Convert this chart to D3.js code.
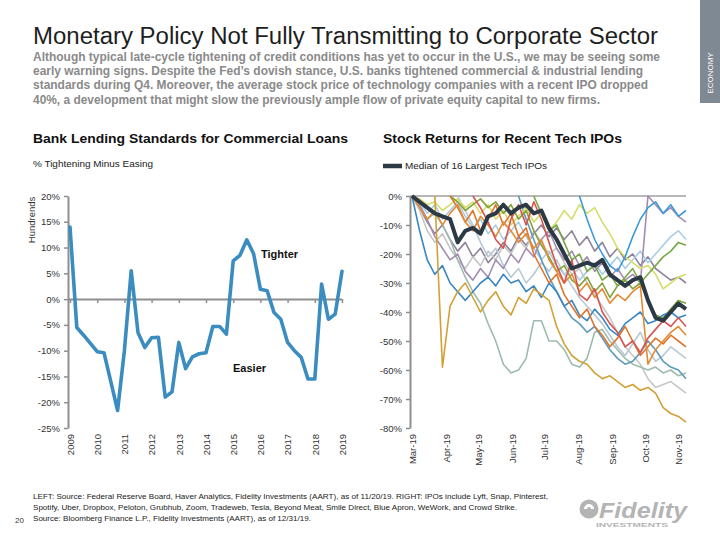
<!DOCTYPE html>
<html><head><meta charset="utf-8">
<script src="https://cdn.jsdelivr.net/npm/d3@7"></script>
<style>
body{margin:0;background:#fff;}
svg{display:block;font-family:"Liberation Sans",Arial,Helvetica,sans-serif;}
</style>
</head><body>
<svg id="chart" width="720" height="540"></svg>
<script>
// ---------------- DATA ----------------
// Left: Bank lending standards, % tightening minus easing (quarterly)
const lendingQuarters = ["2009Q1","2009Q2","2009Q3","2009Q4","2010Q1","2010Q2","2010Q3","2010Q4",
  "2011Q1","2011Q2","2011Q3","2011Q4","2012Q1","2012Q2","2012Q3","2012Q4",
  "2013Q1","2013Q2","2013Q3","2013Q4","2014Q1","2014Q2","2014Q3","2014Q4",
  "2015Q1","2015Q2","2015Q3","2015Q4","2016Q1","2016Q2","2016Q3","2016Q4",
  "2017Q1","2017Q2","2017Q3","2017Q4","2018Q1","2018Q2","2018Q3","2018Q4","2019Q1"];
const lendingValues = [14,-5.5,-7,-8.6,-10.2,-10.4,-16,-21.6,
  -10,5.5,-6.5,-9.4,-7.5,-7.4,-19,-18,
  -8.4,-13.5,-11.2,-10.6,-10.4,-5.3,-5.3,-6.8,
  7.4,8.5,11.5,8.8,1.9,1.6,-2.6,-3.9,
  -8.4,-10,-11.3,-15.5,-15.5,2.9,-3.9,-2.9,5.4];
const lendingYears = [2009,2010,2011,2012,2013,2014,2015,2016,2017,2018,2019];
const lendingTicks = [20,15,10,5,0,-5,-10,-15,-20,-25];

// Right: stock returns for recent tech IPOs (weekly samples)
const ipoDates = ["2019-03-01","2019-03-08","2019-03-15","2019-03-22","2019-03-29",
  "2019-04-05","2019-04-12","2019-04-19","2019-04-26",
  "2019-05-03","2019-05-10","2019-05-17","2019-05-24","2019-05-31",
  "2019-06-07","2019-06-14","2019-06-21","2019-06-28",
  "2019-07-05","2019-07-12","2019-07-19","2019-07-26",
  "2019-08-02","2019-08-09","2019-08-16","2019-08-23","2019-08-30",
  "2019-09-06","2019-09-13","2019-09-20","2019-09-27",
  "2019-10-04","2019-10-11","2019-10-18","2019-10-25",
  "2019-11-01","2019-11-08"];
const s01 = [0,-12,-22,-27,-24,-30,-33,-36,-33,-30,-28,-31,-27,-30,-29,-33,-31,-35,-30,-33,-38,-36,-41,-43,-39,-42,-46,-48,-44,-42,-40,-44,-43,-41,-40,-42,-41];
const s02 = [0,-4,-8,-5,-10,-6,-3,-9,-12,-7,-10,-14,-9,-12,-16,-13,-18,-15,-22,-26,-30,-27,-33,-30,-35,-32,-37,-34,-36,-33,-31,-58,-53,-50,-47,-45,-48];
const s03 = [null,null,null,0,-59,-38,-33,-30,-35,-40,-36,-33,-38,-41,-35,-37,-32,-34,-36,-45,-51,-55,-57,-58,-61,-63,-62,-64,-66,-65,-67,-66,-68,-73,-75,-76,-78];
const s04 = [0,-4,-8,-6,-10,-15,-22,-28,-33,-37,-44,-50,-58,-61,-60,-56,-43,-43,-50,-50,-53,-58,-59,-56,-47,-46,-50,-53,-56,-58,-59,-60,-59,-61,-60,-62,-61];
const s05 = [null,null,null,null,null,null,null,null,null,null,null,null,null,null,0,-8,-15,-22,-28,-33,-38,-42,-44,-47,-45,-49,-53,-56,-58,-57,-54,-50,-53,-57,-59,-60,-63];
const s06 = [0,-5,-12,-16,-13,-18,-22,-25,-21,-24,-19,-22,-17,-20,-15,-18,-12,-16,-20,-18,-23,-27,-25,-30,-34,-38,-42,-47,-52,-55,-58,-63,-66,-65,-64,-66,-68];
const s07 = [0,-3,-8,-14,-18,-22,-20,-26,-29,-25,-28,-22,-25,-20,-23,-18,-21,-15,-12,-18,-22,-19,-24,-21,-26,-23,-28,-25,-29,-27,-30,0,-3,-6,-4,-7,-9];
const s08 = [null,null,null,null,null,null,null,null,0,-4,-9,-15,-18,-8,-3,-10,-2,-8,-16,-24,-30,-22,-34,-36,-32,-40,-44,-47,-52,-50,-54,-49,-46,-43,-45,-42,-45];
const s09 = [null,null,null,null,null,0,-2,-5,-3,-1,-4,-2,-6,-3,-8,-5,-12,-17,-21,-26,-24,-29,-31,-28,-33,-30,-35,-31,-29,-32,-30,-36,-41,-42,-39,-36,-37];
const s10 = [null,null,null,null,null,null,null,null,null,null,null,null,null,null,null,null,0,-6,-12,-10,-16,-22,-20,-26,-24,-29,-27,-31,-28,-25,-30,-27,-24,-21,-19,-16,-17];
const s11 = [0,-1,-3,-2,-5,-3,-1,-4,-2,-6,-3,-8,-5,-10,-7,-4,-9,-6,-12,-9,-5,-8,-3,-6,-4,-9,-13,-18,-21,-23,-25,-24,-27,-32,-30,-28,-27];
const s12 = [0,-2,-6,-3,-8,-5,-2,-7,-11,-8,-13,-10,-15,-12,-9,-14,-18,-22,-19,-24,-27,-25,-29,-26,-23,-27,-24,-21,-25,-22,-19,-23,-20,-17,-14,-12,-15];
const s13 = [null,null,null,null,null,null,null,null,null,null,null,null,null,null,null,null,null,null,null,null,null,null,0,-8,-15,-20,-24,-26,-21,-14,-8,-4,-2,-6,-3,-7,-5];
const s14 = [0,-4,-9,-13,-10,-15,-19,-16,-21,-18,-23,-20,-16,-19,-14,-17,-13,-10,-14,-11,-15,-12,-17,-14,-19,-16,-21,-18,-22,-20,-24,-21,-25,-27,-29,-28,-30];
const s15 = [null,null,null,null,null,null,0,-5,-10,-16,-21,-18,-24,-28,-25,-30,-27,-23,-26,-22,-27,-31,-35,-38,-41,-44,-48,-52,-55,-51,-47,-53,-57,-55,-52,-54,-56];
const s16 = [null,null,null,null,null,0,-4,-9,-5,-12,-8,-3,-10,-6,-14,-11,-20,-25,-30,-27,-34,-38,-42,-39,-45,-48,-52,-49,-45,-50,-55,-52,-49,-51,-48,-50,-52];
const medianIPO = [0,-2,-4,-6,-7,-8,-16,-12,-11,-13,-7,-6,-3,-6,-4,-3,-6,-5,-11,-15,-20,-25,-24,-23,-24,-22,-27,-29,-31,-29,-28,-36,-42,-43,-40,-37,-39];
const ipoSeries = [s14,s12,s06,s04,s15,s05,s07,s11,s09,s10,s13,s01,s16,s02,s08,s03];
const ipoColors = ["#8f8399","#a9cde6","#c6c6c6","#9dbcae","#b7c8d4","#5c9bbb","#a48db3","#d5dd6c",
                   "#84a23a","#79a945","#3d9ad6","#3a86c2","#e0742c","#e48a33","#d9534f","#d3a036"];
const ipoTicks = [0,-10,-20,-30,-40,-50,-60,-70,-80];
const monthTicks = ["2019-03-01","2019-04-01","2019-05-01","2019-06-01","2019-07-01","2019-08-01","2019-09-01","2019-10-01","2019-11-01"];
const monthLabels = ["Mar-19","Apr-19","May-19","Jun-19","Jul-19","Aug-19","Sep-19","Oct-19","Nov-19"];

// ---------------- TEXT ----------------
const titleText = "Monetary Policy Not Fully Transmitting to Corporate Sector";
const subtitleLines = [
  "Although typical late-cycle tightening of credit conditions has yet to occur in the U.S., we may be seeing some",
  "early warning signs. Despite the Fed\u2019s dovish stance, U.S. banks tightened commercial & industrial lending",
  "standards during Q4. Moreover, the average stock price of technology companies with a recent IPO dropped",
  "40%, a development that might slow the previously ample flow of private equity capital to new firms."];
const footerLines = [
  "LEFT: Source: Federal Reserve Board, Haver Analytics, Fidelity Investments (AART), as of 11/20/19.  RIGHT: IPOs include Lyft, Snap, Pinterest,",
  "Spotify, Uber, Dropbox, Peloton, Grubhub, Zoom, Tradeweb, Tesla, Beyond Meat, Smile Direct, Blue Apron, WeWork, and Crowd Strike.",
  "Source: Bloomberg Finance L.P., Fidelity Investments (AART), as of 12/31/19."];

// ---------------- DRAW ----------------
const svg = d3.select("#chart");
svg.append("rect").attr("width",720).attr("height",540).attr("fill","#fff");

function txt(x, y, s, o = {}) {
  const t = svg.append("text").attr("x", x).attr("y", y).text(s)
    .attr("font-size", o.size || 10).attr("fill", o.fill || "#222")
    .attr("font-weight", o.weight || "normal");
  if (o.anchor) t.attr("text-anchor", o.anchor);
  if (o.style) t.attr("font-style", o.style);
  if (o.len) t.attr("textLength", o.len).attr("lengthAdjust", "spacingAndGlyphs");
  if (o.ls) t.attr("letter-spacing", o.ls);
  return t;
}

// Header
txt(33, 44, titleText, {size: 23, fill: "#1e1e1e", len: 625});
const subLens = [627, 610, 615, 567];
subtitleLines.forEach((s, i) => txt(33, 61 + i * 14.2, s, {size: 12, weight: "bold", fill: "#8a8a8a", len: subLens[i]}));

// Side tab
svg.append("rect").attr("x", 700).attr("y", 0).attr("width", 20).attr("height", 103).attr("fill", "#7f8993");
svg.append("text").attr("transform", "translate(713,73) rotate(-90)").attr("text-anchor", "middle")
  .attr("font-size", 8).attr("fill", "#fff").text("ECONOMY");

// ---------- Left chart ----------
txt(33, 143, "Bank Lending Standards for Commercial Loans", {size: 13, weight: "bold", fill: "#111", len: 315});
txt(33, 167, "% Tightening Minus Easing", {size: 9.5, fill: "#222", len: 120});

const qToYear = q => +q.slice(0, 4) + (+q.slice(5) - 1) / 4;
const xL = d3.scaleLinear().domain([2009, 2019]).range([70, 342]);
const yL = d3.scaleLinear().domain([-25, 20]).range([428, 196]);

const gL = svg.append("g");
const yAxisL = gL.append("g").attr("transform", "translate(68,0)")
  .call(d3.axisLeft(yL).tickValues(lendingTicks).tickSize(4).tickSizeOuter(0).tickFormat(d => d + "%"));
yAxisL.select(".domain").attr("stroke", "#8f8f8f").attr("stroke-width", 2);
yAxisL.selectAll(".tick line").attr("stroke", "#8f8f8f").attr("stroke-width", 1.5);
yAxisL.selectAll(".tick text").attr("font-size", 9.5).attr("fill", "#333")
  .attr("font-family", "Liberation Sans, Arial, sans-serif").attr("x", -8);

const xAxisL = gL.append("g").attr("transform", `translate(0,${yL(0)})`)
  .call(d3.axisBottom(xL).tickValues(lendingYears).tickSize(4).tickSizeOuter(0).tickFormat(""));
xAxisL.select(".domain").attr("stroke", "#8f8f8f").attr("stroke-width", 2).attr("d", `M68,0.5H342`);
xAxisL.selectAll(".tick line").attr("stroke", "#8f8f8f").attr("stroke-width", 1.5);

gL.selectAll("text.year").data(lendingYears).join("text").attr("class", "year")
  .attr("transform", d => `translate(${xL(d) + 0.5},434) rotate(-90)`)
  .attr("text-anchor", "end").attr("dy", "0.35em").attr("font-size", 9.5).attr("fill", "#333").text(d => d);

svg.append("text").attr("transform", "translate(32,220) rotate(-90)").attr("text-anchor", "middle")
  .attr("dy", "0.35em").attr("font-size", 9.5).attr("fill", "#333").text("Hundrends");

const lendingData = lendingQuarters.map((q, i) => ({x: qToYear(q), y: lendingValues[i]}));
gL.append("path").datum(lendingData)
  .attr("d", d3.line().x(d => xL(d.x)).y(d => yL(d.y)))
  .attr("fill", "none").attr("stroke", "#3b8dc0").attr("stroke-width", 3.6)
  .attr("stroke-linejoin", "round").attr("stroke-linecap", "round");

txt(261, 258, "Tighter", {size: 11, weight: "bold", fill: "#111"});
txt(233, 372, "Easier", {size: 11, weight: "bold", fill: "#111"});

// ---------- Right chart ----------
txt(383, 143, "Stock Returns for Recent Tech IPOs", {size: 13, weight: "bold", fill: "#111", len: 239});
svg.append("line").attr("x1", 383).attr("x2", 402).attr("y1", 166).attr("y2", 166)
  .attr("stroke", "#2c3a46").attr("stroke-width", 4.5);
txt(405, 169, "Median of 16 Largest Tech IPOs", {size: 9.5, fill: "#222", len: 142});

const parse = d3.timeParse("%Y-%m-%d");
const dates = ipoDates.map(parse);
const xR = d3.scaleTime().domain([parse("2019-03-01"), parse("2019-11-08")]).range([412, 686]);
const yR = d3.scaleLinear().domain([-80, 0]).range([428, 196]);

const gR = svg.append("g");
gR.append("line").attr("x1", 410).attr("x2", 686).attr("y1", yR(0)).attr("y2", yR(0))
  .attr("stroke", "#a0a0a0").attr("stroke-width", 1.5);

const yAxisR = gR.append("g").attr("transform", "translate(410,0)")
  .call(d3.axisLeft(yR).tickValues(ipoTicks).tickSize(4).tickSizeOuter(0).tickFormat(d => d + "%"));
yAxisR.select(".domain").attr("stroke", "#8f8f8f").attr("stroke-width", 2);
yAxisR.selectAll(".tick line").attr("stroke", "#8f8f8f").attr("stroke-width", 1.5);
yAxisR.selectAll(".tick text").attr("font-size", 9.5).attr("fill", "#333")
  .attr("font-family", "Liberation Sans, Arial, sans-serif").attr("x", -8);

gR.selectAll("text.month").data(monthTicks).join("text").attr("class", "month")
  .attr("transform", d => `translate(${xR(parse(d)) + 0.5},434) rotate(-90)`)
  .attr("text-anchor", "end").attr("dy", "0.35em").attr("font-size", 9.5).attr("fill", "#333")
  .text((d, i) => monthLabels[i]);

const lineR = d3.line().defined(d => d.v != null).x(d => xR(d.t)).y(d => yR(d.v));
ipoSeries.forEach((arr, k) => {
  gR.append("path").datum(arr.map((v, i) => ({t: dates[i], v})))
    .attr("d", lineR).attr("fill", "none").attr("stroke", ipoColors[k])
    .attr("stroke-width", 1.6).attr("stroke-linejoin", "round");
});
gR.append("path").datum(medianIPO.map((v, i) => ({t: dates[i], v})))
  .attr("d", lineR).attr("fill", "none").attr("stroke", "#2c3a46")
  .attr("stroke-width", 4).attr("stroke-linejoin", "round");

// ---------- Footer ----------
const footLens = [515, 484, 278];
footerLines.forEach((s, i) => txt(33, 499 + i * 11, s, {size: 7.5, fill: "#222", len: footLens[i]}));
txt(15, 523, "20", {size: 8, fill: "#333"});

// Fidelity logo (text-based)
const logo = svg.append("g").attr("fill", "#b4b4b4");
logo.append("circle").attr("cx", 589).attr("cy", 509).attr("r", 9.5);
logo.append("path").attr("d", "M584,509 a5,5 0 1,1 10,0 l-3,0 a2,2 0 1,0 -4,0 z").attr("fill", "#fff");
txt(599, 518, "Fidelity", {size: 22, weight: "bold", style: "italic", fill: "#b4b4b4", len: 88});
txt(596, 527, "INVESTMENTS", {size: 5.5, weight: "bold", fill: "#b4b4b4", len: 72});
</script>
</body></html>
